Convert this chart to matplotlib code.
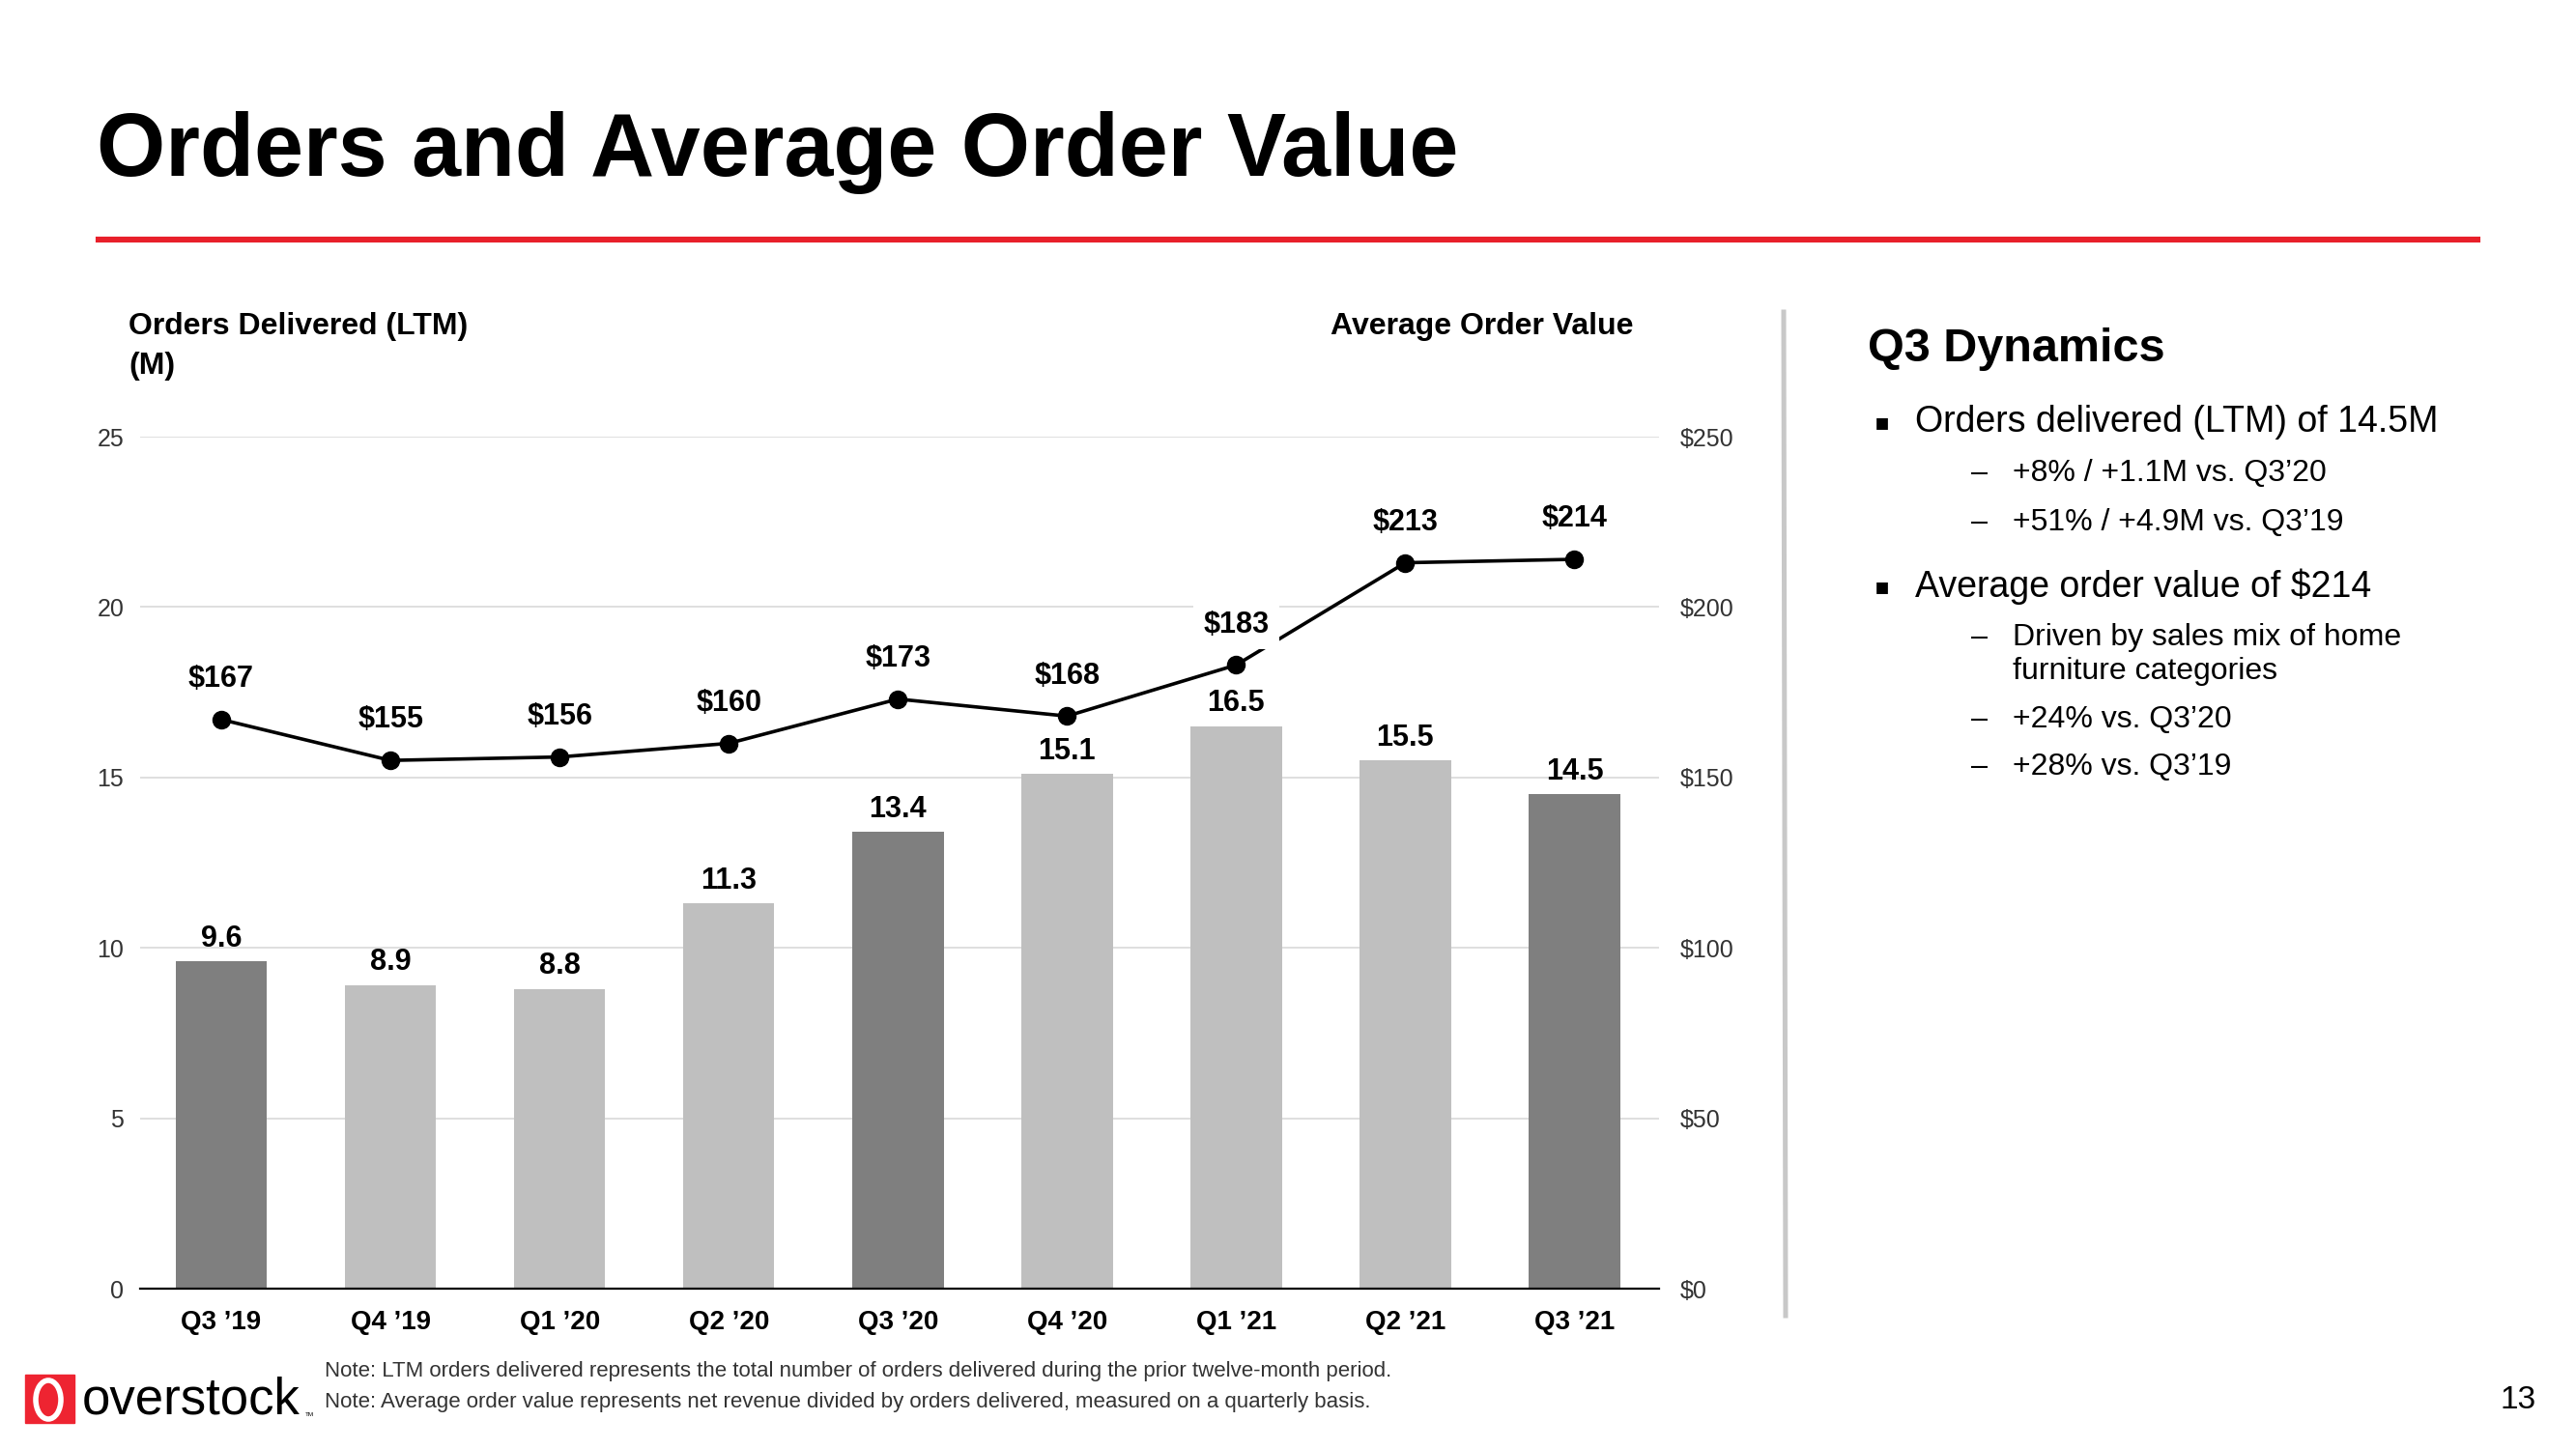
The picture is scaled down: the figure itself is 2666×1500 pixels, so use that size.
import matplotlib
matplotlib.use("Agg")
import matplotlib.pyplot as plt
from matplotlib import font_manager
from matplotlib.lines import Line2D
from matplotlib.patches import Rectangle, Ellipse
from matplotlib.ticker import FuncFormatter

# ---------------- data ----------------
quarters = ["Q3 \u201919", "Q4 \u201919", "Q1 \u201920", "Q2 \u201920", "Q3 \u201920",
            "Q4 \u201920", "Q1 \u201921", "Q2 \u201921", "Q3 \u201921"]
orders_m = [9.6, 8.9, 8.8, 11.3, 13.4, 15.1, 16.5, 15.5, 14.5]
aov_usd = [167, 155, 156, 160, 173, 168, 183, 213, 214]
left_ticks = [0, 5, 10, 15, 20, 25]
right_ticks = [0, 50, 100, 150, 200, 250]

W, H = 2666, 1500
DARK = "#7F7F7F"
LIGHT = "#BFBFBF"
RED = "#E8202A"


def has_font(name):
    try:
        font_manager.findfont(name, fallback_to_default=False)
        return True
    except Exception:
        return False


REG = "Liberation Sans"
NARROW = "Liberation Sans Narrow" if has_font("Liberation Sans Narrow") else None

plt.rcParams["font.family"] = [REG, "DejaVu Sans"]

fig = plt.figure(figsize=(W / 100, H / 100), dpi=100)
fig.patch.set_facecolor("white")


def fx(x):
    return x / W


def fy(y):
    return 1 - y / H


# ---------------- title ----------------
if NARROW:
    fig.text(fx(100), fy(182), "Orders and Average Order Value", family=[NARROW, REG],
             weight="bold", fontsize=77, va="baseline", ha="left", color="black")
else:
    fig.text(fx(100), fy(182), "Orders and Average Order Value", family=REG,
             weight="bold", fontsize=66, va="baseline", ha="left", color="black")

fig.add_artist(Line2D([fx(102), fx(2564)], [fy(248), fy(248)], color=RED, lw=4.4,
                      transform=fig.transFigure))

# ---------------- chart ----------------
ax = fig.add_axes([fx(145), fy(1334), fx(1717) - fx(145), (1334 - 452) / H])
x = list(range(len(quarters)))
colors = [DARK if q.startswith("Q3") else LIGHT for q in quarters]
ax.bar(x, orders_m, width=0.54, color=colors, zorder=2)
ax.set_xlim(-0.48, len(quarters) - 0.5)
ax.set_ylim(0, 25)
ax.set_yticks(left_ticks)
ax.yaxis.grid(True, color="#D9D9D9", lw=1.2, zorder=0)
ax.set_axisbelow(True)
for s in ["top", "right", "left"]:
    ax.spines[s].set_visible(False)
ax.spines["bottom"].set_color("black")
ax.spines["bottom"].set_linewidth(1.6)
ax.spines["bottom"].set_zorder(3)
ax.tick_params(axis="y", length=0, labelsize=18, labelcolor="#333333", pad=12)
ax.tick_params(axis="x", length=0, pad=16)
ax.set_xticks(x)
ax.set_xticklabels(quarters, fontsize=20, weight="bold", color="black")

for xi, v in zip(x, orders_m):
    ax.annotate(f"{v:.1f}", (xi, v), xytext=(0, 17), textcoords="offset points",
                ha="center", va="center", fontsize=22, weight="bold", color="black", zorder=5)

ax2 = ax.twinx()
ax2.set_ylim(0, 250)
ax2.set_yticks(right_ticks)
ax2.yaxis.set_major_formatter(FuncFormatter(lambda v, p: f"${int(v)}"))
for s in ["top", "right", "left", "bottom"]:
    ax2.spines[s].set_visible(False)
ax2.tick_params(axis="y", length=0, labelsize=18, labelcolor="#333333", pad=16)
ax2.plot(x, aov_usd, color="black", lw=2.6, marker="o", markersize=13, zorder=4)
for xi, v in zip(x, aov_usd):
    ax2.annotate(f"${v}", (xi, v), xytext=(0, 30), textcoords="offset points",
                 ha="center", va="center", fontsize=22, weight="bold", color="black",
                 zorder=6,
                 bbox=dict(boxstyle="square,pad=0.35", fc="white", ec="none"))

# axis headers
fig.text(fx(133), fy(338), "Orders Delivered (LTM)", fontsize=23, weight="bold",
         va="center", ha="left")
fig.text(fx(133), fy(379), "(M)", fontsize=23, weight="bold", va="center", ha="left")
fig.text(fx(1534), fy(338), "Average Order Value", fontsize=23, weight="bold",
         va="center", ha="center")

# separator
fig.add_artist(Line2D([fx(1846), fx(1848)], [fy(323), fy(1362)], color="#C8C8C8", lw=3.6,
                      transform=fig.transFigure))

# ---------------- right panel ----------------
fig.text(fx(1933), fy(361), "Q3 Dynamics", fontsize=35, weight="bold", va="center", ha="left")

bullets = [
    (437, "Orders delivered (LTM) of 14.5M"),
    (607, "Average order value of $214"),
]
for yy, t in bullets:
    fig.text(fx(1940), fy(yy), "\u25aa", family=["DejaVu Sans"], fontsize=17,
             va="center", ha="left")
    fig.text(fx(1982), fy(yy), t, fontsize=27, va="center", ha="left")

subs = [
    (490, "+8% / +1.1M vs. Q3\u201920", True),
    (541, "+51% / +4.9M vs. Q3\u201919", True),
    (660, "Driven by sales mix of home", True),
    (695, "furniture categories", False),
    (745, "+24% vs. Q3\u201920", True),
    (794, "+28% vs. Q3\u201919", True),
]
for yy, t, dash in subs:
    if dash:
        fig.text(fx(2040), fy(yy), "\u2013", fontsize=22, va="center", ha="left")
    fig.text(fx(2083), fy(yy), t, fontsize=23, va="center", ha="left")

# ---------------- footer ----------------
fig.text(fx(336), fy(1420), "Note: LTM orders delivered represents the total number of orders "
         "delivered during the prior twelve-month period.", fontsize=16, color="#333333",
         va="center", ha="left")
fig.text(fx(336), fy(1451), "Note: Average order value represents net revenue divided by "
         "orders delivered, measured on a quarterly basis.", fontsize=16, color="#333333",
         va="center", ha="left")
fig.text(fx(2606), fy(1449), "13", fontsize=24, va="center", ha="center")

# logo
fig.add_artist(Rectangle((fx(26), fy(1473)), fx(51), 50 / H, color="#EE2431",
                         transform=fig.transFigure))
fig.add_artist(Ellipse((fx(50), fy(1449)), fx(26), 40 / H, angle=0, fc="#EE2431",
                       ec="white", lw=4, transform=fig.transFigure))
fig.text(fx(85), fy(1464), "overstock", fontsize=38, va="baseline", ha="left", color="black")
fig.text(fx(316), fy(1466), "TM", fontsize=4.5, va="baseline", ha="left", color="black")

fig.savefig("out.png", dpi=100, facecolor="white")
